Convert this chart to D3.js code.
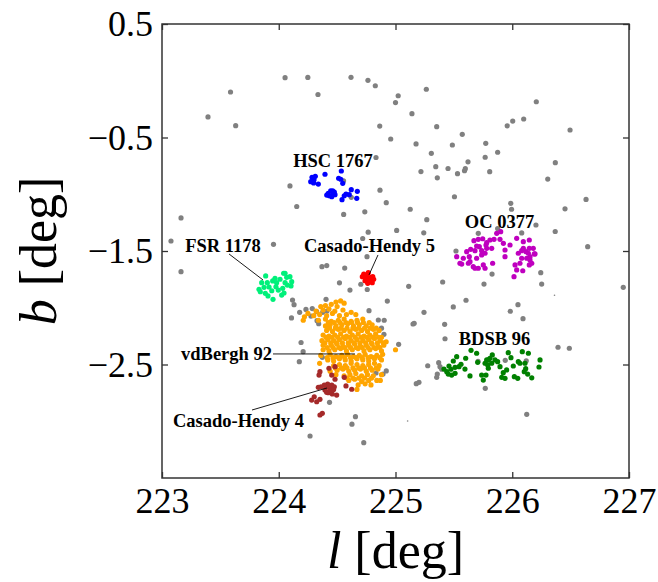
<!DOCTYPE html>
<html>
<head>
<meta charset="utf-8">
<script src="https://cdn.jsdelivr.net/npm/d3@7"></script>
<style>
  body { margin: 0; background: #fff; }
  svg { display: block; }
  .tick text { font-family: "Liberation Serif", serif; font-size: 36px; fill: #000; }
  .tick line { stroke: #333; stroke-width: 1.3; }
  .axislabel { font-family: "Liberation Serif", serif; font-size: 52px; fill: #000; }
  .cl { font-family: "Liberation Serif", serif; font-weight: bold; font-size: 18.5px; fill: #000; }
</style>
</head>
<body>
<div class="chart"></div>
<script>

// field stars (grey)
const field = [
  [223.077,-1.412],[223.163,-1.209],[223.163,-1.682],[223.394,-0.319],[223.587,-0.099],
  [223.631,-0.396],[223.955,-1.441],[224.054,0.027],[224.096,-0.927],[224.154,-1.108],
  [224.249,0.029],[224.336,-0.121],[224.370,-1.638],[224.411,-1.628],[224.619,0.030],
  [224.764,0.004],[224.827,-0.044],[225.023,-0.132],[225.000,-0.192],[225.264,-0.075],
  [225.141,-0.290],[224.865,-0.399],[225.353,-0.405],[224.959,-0.513],[225.176,-0.557],
  [225.487,-0.566],[225.307,-0.639],[224.833,-0.676],[225.345,-0.757],[225.450,-0.773],
  [225.218,-0.800],[225.531,-0.819],[225.358,-0.855],[224.555,-0.881],[224.867,-0.964],
  [224.621,-1.027],[225.505,-1.022],[224.921,-1.074],[225.126,-1.132],[224.737,-1.155],
  [224.556,-1.178],[225.268,-1.224],[224.766,-1.334],[225.010,-1.319],[225.242,-1.340],
  [224.719,-1.390],[225.518,-1.500],[225.572,-0.472],[225.773,-0.551],[225.768,-0.674],
  [225.875,-0.630],[225.621,-0.714],[225.598,-0.775],[225.591,-0.793],[225.807,-0.801],
  [225.957,-0.397],[226.004,-0.355],[226.098,-0.337],[226.206,-0.185],[226.495,-0.434],
  [226.369,-0.722],[226.304,-0.866],[225.987,-1.080],[225.994,-1.132],[226.632,-1.046],
  [226.452,-1.128],[226.368,-1.328],[226.203,-1.271],[226.646,-1.462],[225.875,-1.302],
  [225.709,-1.344],[226.081,-1.341],[225.827,-1.703],[225.758,-1.791],[225.404,-1.773],
  [225.113,-1.811],[226.244,-1.691],[226.252,-1.791],[226.951,-1.820],[224.565,-1.650],
  [224.520,-1.780],[224.703,-1.793],[224.758,-1.839],[224.610,-1.844],[224.756,-1.550],
  [224.930,-1.941],[224.118,-1.932],[224.131,-1.973],[224.405,-1.926],[224.179,-2.040],
  [224.233,-2.015],[224.287,-2.007],[224.325,-2.035],[224.376,-2.040],[224.413,-2.029],
  [224.109,-2.090],[224.276,-2.073],[224.328,-2.114],[224.342,-2.141],[224.773,-2.026],
  [224.853,-2.108],[224.903,-2.110],[224.880,-2.180],[224.901,-2.234],[225.027,-2.322],
  [224.191,-2.306],[224.209,-2.387],[224.176,-2.475],[224.373,-2.437],[224.833,-2.575],
  [224.893,-2.584],[224.921,-2.557],[224.435,-2.833],[224.657,-2.960],[224.627,-3.026],
  [224.268,-3.130],[224.728,-3.189],[225.604,-1.934],[225.495,-1.993],[225.244,-2.040],
  [225.150,-2.143],[225.160,-2.137],[225.421,-2.146],[225.424,-2.273],[226.049,-1.973],
  [225.983,-2.031],[226.092,-2.096],[226.392,-2.348],[226.489,-2.357],[225.276,-2.511],
  [225.370,-2.484],[225.381,-2.519],[225.396,-2.542],[225.358,-2.584],[225.353,-2.613],
  [225.178,-2.669],[225.201,-2.657],[225.769,-2.710],[225.707,-2.472],[225.940,-2.463],
  [226.120,-2.467],[226.124,-2.939]
];
const fieldTiny = [[226.362,-1.890],[225.104,-2.998]];

const hsc1767 = [
  [224.285,-0.851],[224.313,-0.842],[224.274,-0.889],[224.299,-0.901],[224.339,-0.910],
  [224.396,-0.824],[224.536,-0.795],[224.513,-0.859],[224.531,-0.868],[224.548,-0.904],
  [224.424,-0.992],[224.411,-1.007],[224.445,-0.969],[224.462,-0.969],[224.476,-0.980],
  [224.454,-1.022],[224.433,-1.013],[224.482,-1.004],[224.542,-1.048],[224.561,-1.013],
  [224.576,-0.998],[224.604,-1.004],[224.621,-0.960],[224.673,-0.974],[224.668,-1.036],
  [224.302,-0.872],[224.467,-0.992]
];

const fsr1178 = [
  [223.888,-1.720],[223.854,-1.779],[223.831,-1.837],[223.874,-1.820],[223.902,-1.779],
  [223.948,-1.764],[223.968,-1.741],[223.982,-1.779],[223.976,-1.815],[223.940,-1.850],
  [223.996,-1.844],[224.025,-1.888],[224.034,-1.829],[224.054,-1.696],[224.068,-1.732],
  [224.054,-1.779],[224.096,-1.726],[224.111,-1.770],[224.105,-1.808],[224.073,-1.800],
  [224.011,-1.749],[223.951,-1.926],[223.885,-1.873],[223.842,-1.859],[223.908,-1.896],
  [224.042,-1.696],[223.917,-1.817],[224.045,-1.870]
];

const ch5 = [
  [224.728,-1.703],[224.756,-1.720],[224.790,-1.732],[224.813,-1.749],[224.739,-1.762],
  [224.773,-1.770],[224.762,-1.785],[224.801,-1.779],[224.716,-1.726],[224.750,-1.749],
  [224.782,-1.749],[224.767,-1.691],[224.805,-1.726],[224.745,-1.735],[224.790,-1.760],
  [224.735,-1.712]
];

const oc0377 = [
  [225.672,-1.409],[225.709,-1.397],[225.747,-1.392],[225.781,-1.427],[225.809,-1.403],
  [225.844,-1.397],[225.895,-1.397],[225.901,-1.330],[225.867,-1.344],[225.775,-1.447],
  [225.718,-1.462],[225.681,-1.497],[225.644,-1.485],[225.610,-1.506],[225.632,-1.550],
  [225.581,-1.564],[225.552,-1.608],[225.524,-1.550],[225.567,-1.615],[225.638,-1.594],
  [225.695,-1.564],[225.738,-1.535],[225.767,-1.520],[225.666,-1.638],[225.709,-1.652],
  [225.752,-1.623],[225.767,-1.652],[225.832,-1.608],[225.738,-1.497],[225.781,-1.476],
  [225.824,-1.476],[225.938,-1.491],[225.938,-1.550],[225.981,-1.447],[226.038,-1.388],
  [226.095,-1.418],[226.146,-1.403],[226.146,-1.476],[226.180,-1.476],[226.195,-1.526],
  [226.152,-1.550],[226.124,-1.564],[226.167,-1.608],[226.146,-1.623],[226.081,-1.564],
  [226.052,-1.520],[226.024,-1.623],[226.038,-1.667],[226.015,-1.726],[226.090,-1.674],
  [226.066,-1.608],[226.118,-1.506],[226.081,-1.497],[226.095,-1.476],[226.138,-1.520],
  [225.924,-1.432],[225.695,-1.456],[225.624,-1.608],[225.681,-1.652],[226.152,-1.579],
  [226.189,-1.526]
];

const bdsb96 = [
  [225.647,-2.375],[225.695,-2.401],[225.524,-2.431],[225.495,-2.469],[225.601,-2.445],
  [225.561,-2.498],[225.595,-2.540],[225.544,-2.519],[225.510,-2.525],[225.475,-2.542],
  [225.439,-2.563],[225.452,-2.584],[225.481,-2.593],[225.510,-2.578],[225.638,-2.601],
  [225.704,-2.481],[225.767,-2.489],[225.781,-2.460],[225.809,-2.445],[225.829,-2.416],
  [225.852,-2.460],[225.795,-2.533],[225.775,-2.593],[225.752,-2.637],[225.738,-2.593],
  [225.895,-2.519],[225.875,-2.475],[225.966,-2.396],[225.989,-2.440],[225.923,-2.572],
  [225.938,-2.622],[225.910,-2.613],[226.009,-2.513],[226.018,-2.607],[226.047,-2.622],
  [226.052,-2.475],[226.066,-2.489],[226.086,-2.387],[226.138,-2.401],[226.109,-2.489],
  [226.103,-2.563],[226.132,-2.584],[226.167,-2.617],[226.115,-2.537],[226.238,-2.460],
  [226.229,-2.522],[225.795,-2.460],[225.790,-2.504],[225.824,-2.489],[225.952,-2.548],
  [225.458,-2.513],[225.415,-2.540]
];

const vdb92 = [
  [224.49,-1.95],[224.53,-1.94],[224.56,-1.96],
  [224.36,-1.99],[224.40,-1.98],[224.45,-1.97],[224.50,-1.99],
  [224.32,-2.03],[224.38,-2.02],[224.43,-2.01],[224.48,-2.03],[224.55,-2.02],[224.62,-2.04],
  [224.22,-2.08],[224.25,-2.05],[224.30,-2.07],[224.35,-2.06],[224.41,-2.07],[224.46,-2.05],
  [224.52,-2.07],[224.58,-2.06],[224.66,-2.06],
  [224.21,-2.11],[224.34,-2.11],[224.40,-2.10],[224.45,-2.12],[224.51,-2.11],[224.56,-2.10],
  [224.62,-2.12],[224.67,-2.11],[224.72,-2.10],
  [224.425,-2.13],[224.475,-2.13],[224.525,-2.13],[224.575,-2.13],[224.625,-2.13],
  [224.675,-2.13],[224.725,-2.13],[224.775,-2.13],
  [224.40,-2.16],[224.44,-2.15],[224.49,-2.16],[224.54,-2.15],[224.59,-2.14],[224.64,-2.16],
  [224.69,-2.15],[224.75,-2.16],[224.80,-2.15],
  [224.435,-2.18],[224.485,-2.18],[224.535,-2.18],[224.585,-2.18],[224.635,-2.18],
  [224.685,-2.18],[224.735,-2.18],[224.785,-2.18],[224.835,-2.18],
  [224.41,-2.20],[224.46,-2.21],[224.51,-2.19],[224.56,-2.20],[224.61,-2.21],[224.66,-2.19],
  [224.71,-2.20],[224.76,-2.21],[224.81,-2.19],[224.86,-2.20],
  [224.38,-2.24],[224.43,-2.25],[224.48,-2.24],[224.53,-2.23],[224.58,-2.25],[224.63,-2.24],
  [224.68,-2.23],[224.73,-2.25],[224.78,-2.24],[224.83,-2.23],[224.88,-2.26],
  [224.405,-2.26],[224.455,-2.26],[224.505,-2.26],[224.555,-2.26],[224.605,-2.26],
  [224.655,-2.26],[224.705,-2.26],[224.755,-2.26],[224.805,-2.26],[224.855,-2.26],
  [224.37,-2.29],[224.42,-2.28],[224.47,-2.29],[224.52,-2.28],[224.57,-2.27],[224.62,-2.29],
  [224.67,-2.28],[224.72,-2.29],[224.77,-2.28],[224.82,-2.27],[224.87,-2.29],[224.92,-2.30],
  [224.395,-2.31],[224.445,-2.31],[224.495,-2.31],[224.545,-2.31],[224.595,-2.31],
  [224.645,-2.31],[224.695,-2.31],[224.745,-2.31],[224.795,-2.31],[224.845,-2.31],[224.895,-2.31],
  [224.38,-2.33],[224.45,-2.33],[224.50,-2.32],[224.55,-2.34],[224.60,-2.33],[224.65,-2.32],
  [224.70,-2.34],[224.75,-2.33],[224.80,-2.32],[224.85,-2.34],[224.90,-2.33],[225.00,-2.37],
  [224.415,-2.35],[224.465,-2.35],[224.515,-2.35],[224.565,-2.35],[224.615,-2.35],
  [224.665,-2.35],[224.715,-2.35],[224.765,-2.35],[224.815,-2.35],[224.865,-2.35],
  [224.38,-2.37],[224.43,-2.38],[224.48,-2.37],[224.53,-2.36],[224.58,-2.38],[224.63,-2.37],
  [224.68,-2.36],[224.73,-2.38],[224.78,-2.37],[224.83,-2.36],[224.88,-2.38],
  [224.36,-2.42],[224.44,-2.41],[224.49,-2.43],[224.54,-2.42],[224.59,-2.41],[224.64,-2.43],
  [224.69,-2.42],[224.74,-2.41],[224.79,-2.43],[224.84,-2.42],[224.89,-2.41],
  [224.415,-2.44],[224.465,-2.44],[224.515,-2.44],[224.565,-2.44],[224.615,-2.44],
  [224.665,-2.44],[224.715,-2.44],[224.765,-2.44],[224.815,-2.44],[224.865,-2.44],
  [224.35,-2.49],[224.42,-2.46],[224.47,-2.47],[224.52,-2.45],[224.57,-2.46],[224.62,-2.47],
  [224.67,-2.45],[224.72,-2.46],[224.77,-2.47],[224.82,-2.45],[224.88,-2.46],
  [224.47,-2.51],[224.52,-2.50],[224.57,-2.51],[224.62,-2.49],[224.67,-2.50],[224.72,-2.51],
  [224.77,-2.50],[224.82,-2.49],[224.86,-2.51],
  [224.485,-2.53],[224.535,-2.53],[224.585,-2.53],[224.635,-2.53],[224.685,-2.53],
  [224.735,-2.53],[224.785,-2.53],[224.835,-2.53],
  [224.44,-2.56],[224.50,-2.55],[224.55,-2.54],[224.60,-2.56],[224.65,-2.55],[224.70,-2.54],
  [224.75,-2.56],[224.80,-2.55],[224.85,-2.54],
  [224.49,-2.59],[224.56,-2.60],[224.61,-2.59],[224.66,-2.58],[224.71,-2.60],[224.76,-2.59],
  [224.81,-2.60],[224.88,-2.59],
  [224.585,-2.62],[224.635,-2.62],[224.685,-2.62],[224.735,-2.62],[224.795,-2.62],
  [224.60,-2.64],[224.65,-2.63],[224.71,-2.65],[224.77,-2.64],[224.84,-2.64],[224.87,-2.64],
  [224.68,-2.68],[224.74,-2.67],[224.79,-2.68],
  [224.67,-2.72]
];

const ch4 = [
  [224.419,-2.672],[224.390,-2.681],[224.362,-2.696],[224.339,-2.701],[224.396,-2.725],
  [224.439,-2.710],[224.454,-2.681],[224.476,-2.696],[224.424,-2.748],[224.459,-2.760],
  [224.496,-2.769],[224.304,-2.784],[224.282,-2.813],[224.325,-2.828],[224.353,-2.807],
  [224.373,-2.930],[224.353,-2.945],[224.482,-2.630],[224.454,-2.593],[224.430,-2.533],
  [224.482,-2.519],[224.345,-2.593],[224.576,-2.689],[224.625,-2.718],[224.561,-2.613],
  [224.353,-2.563],[224.405,-2.700],[224.430,-2.690],[224.445,-2.735],[224.410,-2.745],
  [224.470,-2.720]
];

const xTicks = [223, 224, 225, 226, 227];
const yTicks = [0.5, -0.5, -1.5, -2.5];

// cluster name, label position, optional leader line (all in l,b)
const labels = [
  {name: 'HSC 1767',       l: 224.465, b: -0.76,  anchor: 'middle', line: null},
  {name: 'FSR 1178',       l: 223.522, b: -1.509, anchor: 'middle', line: [223.574, -1.526, 223.865, -1.755]},
  {name: 'Casado-Hendy 5', l: 224.777, b: -1.509, anchor: 'middle', line: [224.850, -1.535, 224.773, -1.711]},
  {name: 'OC 0377',        l: 225.891, b: -1.297, anchor: 'middle', line: null},
  {name: 'BDSB 96',        l: 225.848, b: -2.328, anchor: 'middle', line: null},
  {name: 'vdBergh 92',     l: 223.942, b: -2.46,  anchor: 'end',    line: [223.951, -2.407, 224.653, -2.407]},
  {name: 'Casado-Hendy 4', l: 223.655, b: -3.051, anchor: 'middle', line: [223.771, -2.901, 224.413, -2.707]}
];

const width = 658;
const height = 582;
const margin = {top: 24, right: 29, bottom: 104, left: 162};

const svg = d3.select('.chart')
  .append('svg')
  .attr('width', width)
  .attr('height', height)
  .style('background-color', '#fff');

const xScale = d3.scaleLinear()
  .domain([223, 227])
  .range([margin.left, width - margin.right]);

const yScale = d3.scaleLinear()
  .domain([-3.5, 0.5])
  .range([height - margin.bottom, margin.top]);

// points, grey field first then the clusters on top
const groups = [
  {data: field,   color: '#808080', r: 2.6},
  {data: fieldTiny, color: '#808080', r: 0.8},
  {data: hsc1767, color: '#0000ff', r: 2.6},
  {data: fsr1178, color: '#00f07a', r: 2.6},
  {data: ch5,     color: '#ff0000', r: 2.6},
  {data: oc0377,  color: '#bf00bf', r: 2.6},
  {data: bdsb96,  color: '#008000', r: 2.6},
  {data: vdb92,   color: '#ffa500', r: 2.6},
  {data: ch4,     color: '#a52a2a', r: 2.6}
];

groups.forEach(function(g) {
  svg.append('g')
    .selectAll('circle')
    .data(g.data)
    .enter()
    .append('circle')
      .attr('cx', d => xScale(d[0]))
      .attr('cy', d => yScale(d[1]))
      .attr('r', g.r)
      .attr('fill', g.color);
});

// leader lines + names
labels.forEach(function(d) {
  if (d.line) {
    svg.append('line')
      .attr('x1', xScale(d.line[0])).attr('y1', yScale(d.line[1]))
      .attr('x2', xScale(d.line[2])).attr('y2', yScale(d.line[3]))
      .attr('stroke', '#000')
      .attr('stroke-width', 0.9);
  }
  svg.append('text')
    .attr('class', 'cl')
    .attr('x', xScale(d.l))
    .attr('y', yScale(d.b))
    .attr('text-anchor', d.anchor)
    .text(d.name);
});

// axes: ticks point inwards on all four sides
const innerH = height - margin.top - margin.bottom;

svg.append('g')
  .attr('transform', `translate(0,${height - margin.bottom})`)
  .call(d3.axisBottom(xScale).tickValues(xTicks).tickFormat(d3.format('d'))
    .tickSizeInner(-6).tickSizeOuter(0).tickPadding(9))
  .call(g => g.select('.domain').remove());

svg.append('g')
  .attr('transform', `translate(0,${margin.top})`)
  .call(d3.axisTop(xScale).tickValues(xTicks).tickFormat('')
    .tickSizeInner(-6).tickSizeOuter(0))
  .call(g => g.select('.domain').remove());

svg.append('g')
  .attr('transform', `translate(${margin.left},0)`)
  .call(d3.axisLeft(yScale).tickValues(yTicks).tickFormat(d3.format('.1f'))
    .tickSizeInner(-6).tickSizeOuter(0).tickPadding(9))
  .call(g => g.select('.domain').remove());

svg.append('g')
  .attr('transform', `translate(${width - margin.right},0)`)
  .call(d3.axisRight(yScale).tickValues(yTicks).tickFormat('')
    .tickSizeInner(-6).tickSizeOuter(0))
  .call(g => g.select('.domain').remove());

svg.selectAll('.tick text').attr('font-family', null).attr('font-size', null);

// frame
svg.append('rect')
  .attr('x', margin.left)
  .attr('y', margin.top)
  .attr('width', width - margin.left - margin.right)
  .attr('height', innerH)
  .attr('fill', 'none')
  .attr('stroke', '#333')
  .attr('stroke-width', 1.5);

// axis titles
const xl = svg.append('text')
  .attr('class', 'axislabel')
  .attr('x', (margin.left + width - margin.right) / 2)
  .attr('y', 568)
  .attr('text-anchor', 'middle');
xl.append('tspan').attr('font-style', 'italic').text('l');
xl.append('tspan').text(' [deg]');

const yl = svg.append('text')
  .attr('class', 'axislabel')
  .attr('transform', `translate(56,${margin.top + innerH / 2}) rotate(-90)`)
  .attr('text-anchor', 'middle');
yl.append('tspan').attr('font-style', 'italic').text('b');
yl.append('tspan').text(' [deg]');

</script>
</body>
</html>
